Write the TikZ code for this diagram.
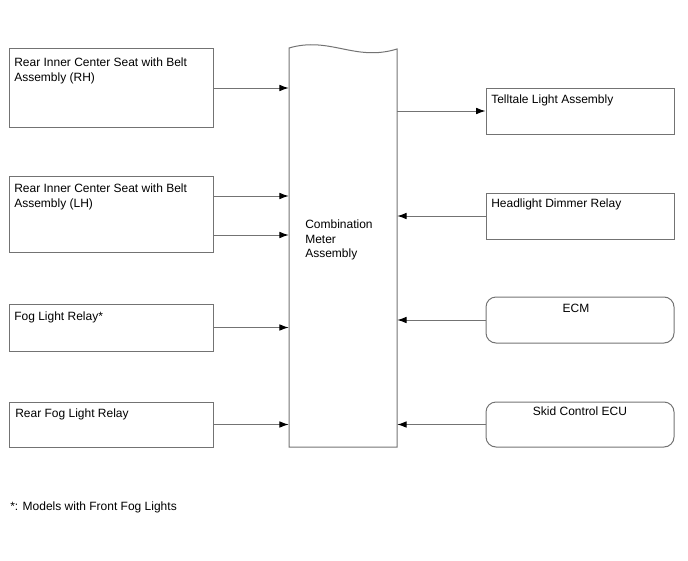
\documentclass[tikz,border=0pt]{standalone}
\usepackage{fontspec}
\setmainfont{Liberation Sans}
\usetikzlibrary{arrows.meta}
\begin{document}
\begin{tikzpicture}[x=0.75pt,y=-0.75pt,
  line/.style={draw=black!55, line width=0.75pt},
  box/.style={line, rectangle, inner sep=0pt},
  rbox/.style={box, rounded corners=7.5pt},
  lbl/.style={anchor=north west, inner sep=0pt, align=left, font=\fontsize{9pt}{10.8pt}\selectfont},
  clbl/.style={anchor=north, inner sep=0pt, align=center, font=\fontsize{9pt}{10.8pt}\selectfont},
  arr/.style={line, -{Latex[length=7pt,width=5pt,color=black]}}]
\useasboundingbox (0,0) rectangle (688,560);
% boxes
\node[box, minimum width=153pt, minimum height=58.5pt] (rh) at (111,88) {};
\node[box, minimum width=153pt, minimum height=57pt] (lh) at (111,214) {};
\node[box, minimum width=153pt, minimum height=35.25pt] (fog) at (111,327.5) {};
\node[box, minimum width=153pt, minimum height=33.75pt] (rfog) at (111,424.5) {};
\node[box, minimum width=141pt, minimum height=34.5pt] (tell) at (580,111) {};
\node[box, minimum width=141pt, minimum height=34.5pt] (head) at (580,216) {};
\node[rbox, minimum width=141pt, minimum height=34.5pt] (ecm) at (580,320) {};
\node[rbox, minimum width=141pt, minimum height=33.75pt] (skid) at (580,424.5) {};
% meter
\node[inner sep=0pt, minimum width=81pt, minimum height=300pt] (meter) at (343,247.5) {};
\draw[line] (289,447) -- (289,48) .. controls (330,36) and (355,62) .. (397,49) -- (397,447) -- cycle;
% texts
\node[lbl] (t1) at (14,58) {Rear Inner Center Seat with Belt\\Assembly (RH)};
\node[lbl] (t2) at (14,184) {Rear Inner Center Seat with Belt\\Assembly (LH)};
\node[lbl] (t3) at (14,312) {Fog Light Relay*};
\node[lbl] (t4) at (15,409) {Rear Fog Light Relay};
\node[lbl] (t5) at (491,95) {Telltale Light Assembly};
\node[lbl] (t6) at (491,199) {Headlight Dimmer Relay};
\node[clbl] (t7) at (576,304) {ECM};
\node[clbl] (t8) at (580,407) {Skid Control ECU};
\node[lbl] (t9) at (305,220) {Combination\\Meter\\Assembly};
\node[lbl] (t10) at (10,502) {*: Models with Front Fog Lights};
% connectors
\draw[arr] (rh.east) -- (rh.east -| meter.west);
\draw[arr] ([yshift=13.5pt]lh.east) -- ([yshift=13.5pt]lh.east -| meter.west);
\draw[arr] ([yshift=-15.75pt]lh.east) -- ([yshift=-15.75pt]lh.east -| meter.west);
\draw[arr] (fog.east) -- (fog.east -| meter.west);
\draw[arr] (rfog.east) -- (rfog.east -| meter.west);
\draw[arr] (tell.west -| meter.east) -- (tell.west);
\draw[arr] (head.west) -- (head.west -| meter.east);
\draw[arr] (ecm.west) -- (ecm.west -| meter.east);
\draw[arr] (skid.west) -- (skid.west -| meter.east);
\end{tikzpicture}
\end{document}
